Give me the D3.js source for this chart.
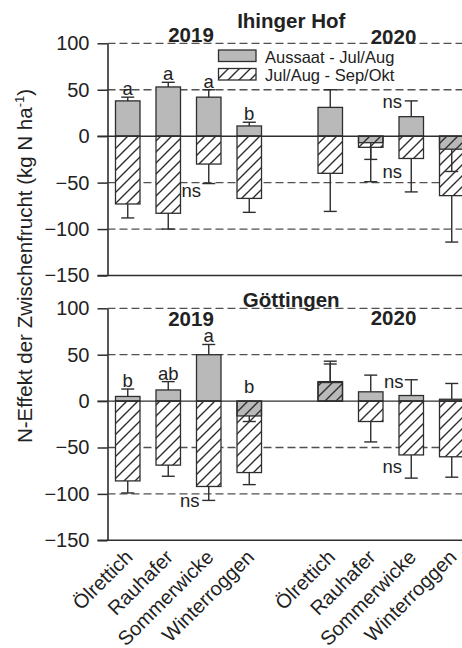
<!DOCTYPE html>
<html>
<head>
<meta charset="utf-8">
<script src="https://cdn.jsdelivr.net/npm/d3@7"></script>
<style>
  html, body { margin: 0; padding: 0; background: #ffffff; }
  svg { display: block; font-family: "Liberation Sans", Arial, sans-serif; }
</style>
</head>
<body>
<svg id="chart" width="462" height="648"></svg>
<script>
// Cover crops and years (categories on the x axis)
const crops = ["Ölrettich", "Rauhafer", "Sommerwicke", "Winterroggen"];
const years = ["2019", "2020"];
const yTicks = [-150, -100, -50, 0, 50, 100];

// Ihinger Hof: N effect per period (kg N/ha), 2019 crops then 2020 crops
const ihingerAussaat     = [38, 53, 42, 11, 31, -7, 21, -14];
const ihingerAussaatErr  = [4, 5, 8, 4, 19, 18, 17, 24];
const ihingerJulSep      = [-73, -83, -30, -67, -40, -12, -24, -64];
const ihingerJulSepErr   = [15, 17, 21, 15, 41, 37, 36, 50];
const ihingerLetters     = ["a", "a", "a", "b", "", "", "", ""];
// "ns" notes: [bar index, value at text baseline, side of the bar]
const ihingerNs          = [[1, -65, "right"], [6, 30, "left"], [6, -45, "left"]];

// Göttingen
const goettingenAussaat    = [5, 12, 50, -16, 21, 10, 6, 2];
const goettingenAussaatErr = [8, 9, 11, 6, 22, 18, 17, 17];
const goettingenJulSep     = [-86, -69, -92, -77, 20, -22, -58, -60];
const goettingenJulSepErr  = [13, 12, 15, 13, 20, 22, 25, 22];
const goettingenLetters    = ["b", "ab", "a", "b", "", "", "", ""];
const goettingenNs         = [[2, -114, "left"], [5, 14, "right"], [6, -78, "left"]];

const legendLabels = ["Aussaat - Jul/Aug", "Jul/Aug - Sep/Okt"];
const yTitle = "N-Effekt der Zwischenfrucht (kg N ha";

const W = 462, H = 648;
const svg = d3.select("#chart");
const ink = "#2e2e2e";
const greyFill = "#b9b9b9";

// Hatch pattern for the Jul/Aug - Sep/Okt series
const defs = svg.append("defs");
const pat = defs.append("pattern")
  .attr("id", "hatch").attr("patternUnits", "userSpaceOnUse")
  .attr("width", 11).attr("height", 11);
pat.append("path")
  .attr("d", "M0,11 L11,0 M-3,3 L3,-3 M8,14 L14,8")
  .attr("stroke", ink).attr("stroke-width", 1.4).attr("fill", "none");

// Bars sit on an index scale with one empty slot between the years
const slot = i => (i < 4 ? i : i + 1);
const x = d3.scaleLinear().domain([-0.5, 9.5]).range([107.5, 512.5]);
const barW = 24.5;

const panels = [
  { title: "Ihinger Hof", range: [275.5, 43.3],
    a: ihingerAussaat, aErr: ihingerAussaatErr,
    b: ihingerJulSep, bErr: ihingerJulSepErr,
    letters: ihingerLetters, ns: ihingerNs,
    titleY: 28, yearY: [41.7, 43.5], legend: true },
  { title: "Göttingen", range: [540.3, 308.3],
    a: goettingenAussaat, aErr: goettingenAussaatErr,
    b: goettingenJulSep, bErr: goettingenJulSepErr,
    letters: goettingenLetters, ns: goettingenNs,
    titleY: 306.5, yearY: [326, 325], legend: false }
];

const axisLeft = 107.5;

panels.forEach(p => {
  const y = d3.scaleLinear().domain([-150, 100]).range(p.range);
  const g = svg.append("g");

  // dashed gridlines
  g.selectAll("line.grid").data([100, 50, -50, -100]).join("line")
    .attr("x1", axisLeft).attr("x2", W)
    .attr("y1", d => y(d)).attr("y2", d => y(d))
    .attr("stroke", "#505050").attr("stroke-width", 1.3)
    .attr("stroke-dasharray", "8,4");

  const idx = d3.range(8);
  const rectY = v => Math.min(y(0), y(v));
  const rectH = v => Math.abs(y(v) - y(0));

  // white backing for the hatched bars
  g.selectAll("rect.back").data(idx).join("rect")
    .attr("x", i => x(slot(i)) - barW / 2).attr("width", barW)
    .attr("y", i => rectY(p.b[i])).attr("height", i => rectH(p.b[i]))
    .attr("fill", "#ffffff");

  // grey bars: Aussaat - Jul/Aug
  g.selectAll("rect.a").data(idx).join("rect")
    .attr("x", i => x(slot(i)) - barW / 2).attr("width", barW)
    .attr("y", i => rectY(p.a[i])).attr("height", i => rectH(p.a[i]))
    .attr("fill", greyFill).attr("stroke", ink).attr("stroke-width", 1.3);

  // hatched bars: Jul/Aug - Sep/Okt
  g.selectAll("rect.b").data(idx).join("rect")
    .attr("x", i => x(slot(i)) - barW / 2).attr("width", barW)
    .attr("y", i => rectY(p.b[i])).attr("height", i => rectH(p.b[i]))
    .attr("fill", "url(#hatch)").attr("stroke", ink).attr("stroke-width", 1.3);

  // error bars drawn outward from each bar end
  const errs = [];
  idx.forEach(i => {
    [[p.a[i], p.aErr[i]], [p.b[i], p.bErr[i]]].forEach(([v, e]) => {
      const s = v < 0 ? -1 : 1;
      errs.push({ cx: x(slot(i)), v0: v, v1: v + s * e });
    });
  });
  const eg = g.selectAll("g.err").data(errs).join("g");
  eg.append("line")
    .attr("x1", d => d.cx).attr("x2", d => d.cx)
    .attr("y1", d => y(d.v0)).attr("y2", d => y(d.v1))
    .attr("stroke", ink).attr("stroke-width", 1.4);
  eg.append("line")
    .attr("x1", d => d.cx - 6.5).attr("x2", d => d.cx + 6.5)
    .attr("y1", d => y(d.v1)).attr("y2", d => y(d.v1))
    .attr("stroke", ink).attr("stroke-width", 1.4);

  // zero line and bottom axis line
  g.append("line").attr("x1", axisLeft - 10).attr("x2", W)
    .attr("y1", y(0)).attr("y2", y(0))
    .attr("stroke", ink).attr("stroke-width", 1.4);
  g.append("line").attr("x1", axisLeft - 10).attr("x2", W)
    .attr("y1", y(-150)).attr("y2", y(-150))
    .attr("stroke", ink).attr("stroke-width", 1.6);

  // y axis
  const ax = g.append("g").attr("transform", `translate(${axisLeft},0)`)
    .call(d3.axisLeft(y).tickValues(yTicks).tickSize(10).tickSizeOuter(0).tickPadding(8));
  ax.select(".domain").attr("stroke", ink).attr("stroke-width", 1.6);
  ax.selectAll(".tick line").attr("stroke", ink).attr("stroke-width", 1.5);
  ax.selectAll(".tick text").attr("font-size", 20).attr("fill", "#222")
    .attr("font-family", "Liberation Sans, Arial, sans-serif");

  // significance letters above the grey bars
  g.selectAll("text.let").data(idx.filter(i => p.letters[i])).join("text")
    .attr("x", i => x(slot(i)))
    .attr("y", i => {
      const top = p.a[i] + (p.a[i] < 0 ? -p.aErr[i] : p.aErr[i]);
      return top > 0 ? y(top) - 2 : y(0) - 8;
    })
    .attr("text-anchor", "middle").attr("font-size", 18.5).attr("fill", "#222")
    .text(i => p.letters[i]);

  // "ns" notes
  g.selectAll("text.ns").data(p.ns).join("text")
    .attr("x", d => x(slot(d[0])) + (d[2] === "right" ? 23 : -19))
    .attr("y", d => y(d[1]))
    .attr("text-anchor", "middle").attr("font-size", 18.5).attr("fill", "#222")
    .text("ns");

  // panel title and year headings
  g.append("text").attr("x", x(4) + 1.5).attr("y", p.titleY)
    .attr("text-anchor", "middle").attr("font-size", 20.5).attr("font-weight", "bold")
    .attr("fill", "#222").text(p.title);
  years.forEach((yr, k) => {
    g.append("text").attr("x", x(k === 0 ? 1.5 : 6.5) + 2.5).attr("y", p.yearY[k])
      .attr("text-anchor", "middle").attr("font-size", 20.5).attr("font-weight", "bold")
      .attr("fill", "#222").text(yr);
  });

  // legend
  if (p.legend) {
    const lg = g.append("g");
    const fills = [greyFill, "url(#hatch)"];
    legendLabels.forEach((lab, k) => {
      lg.append("rect").attr("x", 218.5).attr("y", 50 + k * 18.5)
        .attr("width", 37.5).attr("height", 11.5)
        .attr("fill", fills[k]).attr("stroke", ink).attr("stroke-width", 1.3);
      lg.append("text").attr("x", 265).attr("y", 63 + k * 17.5)
        .attr("font-size", 16.5).attr("fill", "#222").text(lab);
    });
  }
});

// crop names under the lower panel
const yBottom = 540.3;
svg.append("g").selectAll("text").data(d3.range(8)).join("text")
  .attr("transform", i => `translate(${x(slot(i)) + 6},${yBottom + 18}) rotate(-45)`)
  .attr("text-anchor", "end").attr("font-size", 20).attr("fill", "#222")
  .text(i => crops[i % 4]);

// y axis title
const yt = svg.append("text")
  .attr("transform", "translate(32,266) rotate(-90)")
  .attr("text-anchor", "middle").attr("font-size", 20.5).attr("fill", "#222");
yt.append("tspan").text(yTitle);
yt.append("tspan").attr("font-size", 13).attr("dy", -8).text("-1");
yt.append("tspan").attr("dy", 8).text(")");
</script>
</body>
</html>
